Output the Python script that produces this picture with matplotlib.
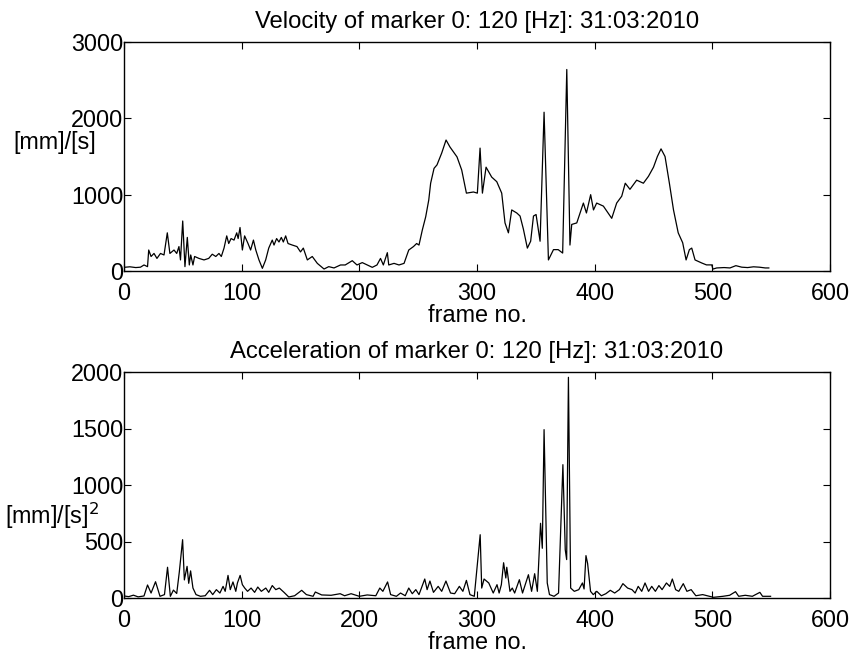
import matplotlib
matplotlib.use("Agg")
import matplotlib.pyplot as plt
from matplotlib.ticker import FixedLocator

# ---------------- data ----------------
vel_frames = [0, 5, 10, 14, 17, 20, 21, 23, 25.5, 28, 31, 34, 36.8, 39, 42.5, 44.8, 46.7, 48, 49.9,
              51.8, 53.8, 55.5, 56.7, 58.6, 60, 63.7, 68, 72, 75, 78, 80.7, 82.7, 85, 87.3, 89, 91,
              93.5, 95.8, 97, 98.6, 100.6, 102.5, 105.4, 107.6, 110, 112, 114.7, 117.6, 120.4, 123,
              126, 127.5, 129.7, 131.7, 133.7, 135.4, 137.4, 139.4, 143, 147, 150, 152.4, 155.8, 160,
              164.3, 170, 174, 178.5, 184, 188, 194, 198, 202.5, 206.8, 211, 215, 218, 220.4, 223.8,
              225, 229.5, 233.7, 238, 242, 246, 248.7, 250.7, 253.5, 256.4, 259, 260.6, 263.5, 266,
              270, 273.7, 277, 283, 287, 291, 297, 300.3, 302.6, 304.6, 307.7, 312.5, 316.8, 321,
              323.8, 326.7, 329.5, 333.8, 336.6, 339.4, 342.8, 345.6, 348, 350.2, 353.6, 357, 360.7,
              365, 369, 372.8, 376.3, 379, 380.5, 384.8, 390.4, 393, 396.6, 399, 401.7, 407.4, 414.5,
              418.7, 423, 426, 430, 435.7, 441.4, 445.7, 450, 453.3, 456.4, 459.8, 463.5, 467, 471,
              474.8, 477.7, 480.5, 482.5, 485.3, 491, 495, 499.5, 500.5, 503.7, 510, 515, 520, 525,
              530, 535, 540, 545, 548]
vel_values = [48, 55, 45, 50, 79, 57, 275, 190, 230, 165, 230, 210, 500, 230, 275, 230, 320, 145, 655,
              57, 440, 79, 210, 79, 190, 165, 145, 165, 220, 190, 230, 190, 300, 460, 360, 425,
              405, 500, 425, 570, 275, 460, 360, 275, 405, 275, 145, 35, 145, 300,
              405, 340, 425, 380, 440, 380, 460, 360, 340, 320, 250, 300, 145, 190,
              100, 26, 57, 40, 79, 79, 135, 79, 110, 79, 48, 79, 165, 79, 240,
              79, 100, 79, 100, 275, 320, 360, 340, 535, 710, 930, 1150, 1345, 1390,
              1545, 1716, 1625, 1495, 1323, 1020, 1035, 1020, 1610, 1020, 1360, 1230, 1170, 1020,
              630, 500, 800, 760, 720, 550, 300, 390, 720, 740, 390, 2080, 145,
              280, 280, 235, 2640, 340, 610, 630, 890, 760, 1000, 800, 890, 850, 690,
              890, 980, 1150, 1070, 1190, 1150, 1240, 1360, 1500, 1600, 1500, 1150, 800, 500,
              370, 145, 280, 300, 145, 105, 80, 80, 25, 40, 45, 40, 70, 50,
              45, 55, 50, 40, 40]

acc_frames = [0, 4, 8, 12, 17, 20, 23, 26.8, 30.6, 34.4, 37, 39.4, 42, 44.8, 47, 49.8, 51.3, 53.6, 55,
              56.6, 58.6, 61.2, 65, 69, 72.7, 75.4, 78.5, 81.5, 84.2, 86, 88.4, 90.3, 92.6, 95, 96.4,
              98.7, 100.6, 102.6, 105, 108, 111, 113.7, 116.7, 120.5, 123, 126, 129, 132, 136, 140,
              145, 151, 155, 160.7, 162.6, 168, 176, 183.7, 187.5, 193, 200, 206.7, 214, 217.4, 220,
              224, 226.6, 231.5, 235, 239, 242, 245, 248, 250.7, 255.6, 257.6, 260, 263, 267, 270,
              273.6, 277.5, 281, 285, 288, 291, 294, 297.7, 300.4, 302.7, 304, 306, 310, 313.8, 317,
              318.8, 320.7, 322.6, 324.5, 325.3, 328, 330, 332, 336, 338.7, 341.4, 343.7, 346.4, 349,
              351.3, 354, 355.5, 357, 359.7, 361.6, 365.5, 369.3, 373, 375, 376.2, 377.7, 379.6,
              382.7, 386.5, 389.6, 391, 392.6, 394, 396.5, 398.8, 401.8, 405.7, 409.5, 413.3, 417,
              421, 424, 428, 431.7, 434.4, 437, 440, 442.8, 445.8, 448.5, 451.6, 454.6, 457.3, 461,
              463.8, 466, 468.8, 471.5, 475.3, 478.4, 482, 486, 491.8, 497.5, 501, 509, 514.7, 519.7,
              522.4, 528, 534, 540.4, 542.7, 549.5]
acc_values = [18, 12, 25, 10, 18, 115, 44, 144, 15, 30, 272, 15, 70, 40, 230, 516, 160, 280, 130,
              240, 88, 30, 15, 20, 68, 30, 74, 44, 103, 59, 200, 74, 142, 59, 133,
              200, 118, 88, 59, 88, 50, 97, 59, 88, 50, 110, 74, 88, 50, 9,
              20, 68, 30, 15, 53, 27, 24, 38, 20, 38, 15, 27, 20, 88, 59,
              142, 30, 15, 44, 20, 88, 38, 74, 30, 168, 74, 150, 50, 103, 59,
              150, 44, 38, 103, 59, 156, 30, 15, 306, 560, 88, 168, 133, 44, 118,
              44, 118, 312, 177, 272, 59, 88, 44, 162, 44, 133, 206, 59, 215,
              59, 661, 440, 1490, 133, 30, 15, 44, 1180, 427, 340, 1953, 88,
              59, 74, 133, 80, 375, 306, 59, 30, 59, 20, 38, 68, 44,
              74, 127, 88, 74, 44, 103, 59, 133, 59, 103, 59, 110, 74, 133,
              103, 168, 74, 59, 127, 59, 74, 20, 30, 15, 6, 15, 24, 56,
              15, 24, 15, 50, 15, 15]

x_ticks = [0, 100, 200, 300, 400, 500, 600]
vel_ticks = [0, 1000, 2000, 3000]
acc_ticks = [0, 500, 1000, 1500, 2000]

plt.rcParams['font.family'] = ['Liberation Sans', 'DejaVu Sans']
FS = 16.8

fig = plt.figure(figsize=(8.55, 6.61), dpi=100)
W, H = 855, 661

def make_ax(left, top, right, bottom):
    return fig.add_axes([left / W, 1 - bottom / H, (right - left) / W, (bottom - top) / H])

ax1 = make_ax(124, 42, 830, 271)
ax2 = make_ax(124, 372, 830, 598)

for ax in (ax1, ax2):
    ax.set_xlim(0, 600)
    ax.xaxis.set_major_locator(FixedLocator(x_ticks))
    ax.tick_params(direction='in', top=True, right=True, length=5, width=0.8,
                   labelsize=FS)
    ax.tick_params(axis='x', pad=8)
    ax.tick_params(axis='y', pad=0.5)
    for s in ax.spines.values():
        s.set_linewidth(1.0)
    ax.set_xlabel('frame no.', fontsize=FS, labelpad=-1)

ax1.plot(vel_frames, vel_values, color='black', linewidth=0.9)
ax1.set_ylim(0, 3000)
ax1.yaxis.set_major_locator(FixedLocator(vel_ticks))
ax1.set_title('Velocity of marker 0: 120 [Hz]: 31:03:2010', fontsize=17.2, pad=10)
ax1.set_ylabel('[mm]/[s]', fontsize=FS, rotation=0, ha='center', va='center')
ax1.yaxis.set_label_coords((55 - 124) / 706, (271 - 143) / 229)

ax2.plot(acc_frames, acc_values, color='black', linewidth=0.9)
ax2.set_ylim(0, 2000)
ax2.yaxis.set_major_locator(FixedLocator(acc_ticks))
ax2.set_title('Acceleration of marker 0: 120 [Hz]: 31:03:2010', fontsize=17.2, pad=10)
ax2.set_ylabel('[mm]/[s]$^2$', fontsize=FS, rotation=0, ha='center', va='center')
ax2.yaxis.set_label_coords((52 - 124) / 706, (598 - 516) / 226)

fig.savefig('out.png', dpi=100)
